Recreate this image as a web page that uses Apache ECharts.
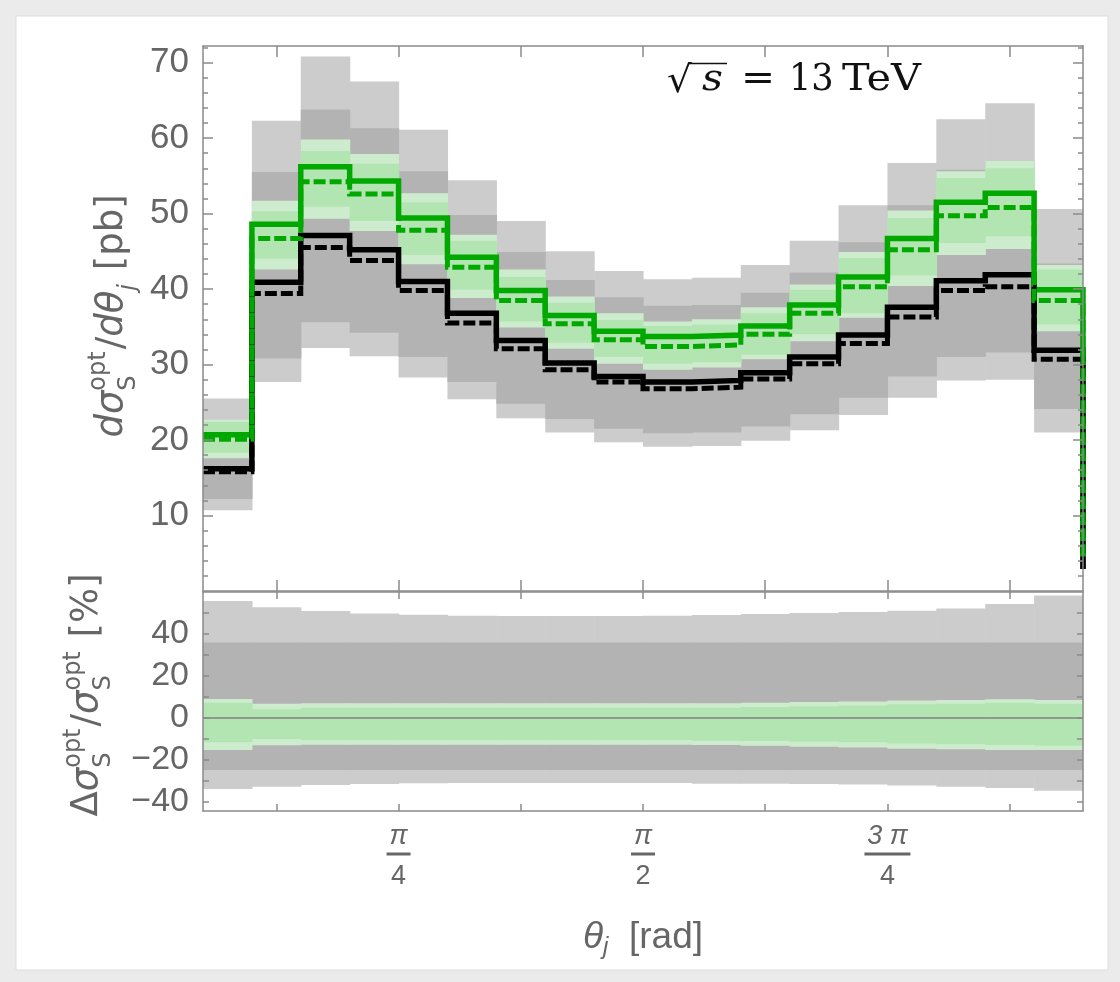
<!DOCTYPE html>
<html><head><meta charset="utf-8">
<script src="https://cdn.jsdelivr.net/npm/echarts@6/dist/echarts.min.js"></script>
<style>html,body{margin:0;padding:0;background:#ebebeb;} #c{width:1120px;height:982px;}</style>
</head><body><div id="c"></div>
<script>
// ---------- data ----------
const binEdges = [0.1571,0.3142,0.4712,0.6283,0.7854,0.9425,1.0996,1.2566,1.4137,1.5708,1.7279,1.8850,2.0420,2.1991,2.3562,2.5133,2.6704,2.8274,2.9845];
// central step lines (18 bins + the clipped bin after the last edge)
const blackSolid  = [16.2,40.9,47.1,45.2,41.0,36.8,33.2,30.2,28.4,27.7,27.9,28.9,31.0,33.9,37.6,41.1,41.9,31.9,2.9];
const blackDashed = [15.8,39.4,45.5,43.8,39.8,35.5,32.1,29.3,27.7,26.8,27.0,28.1,30.1,32.8,36.3,39.8,40.3,30.7,2.8];
const greenSolid  = [20.7,48.6,56.2,54.3,49.4,44.2,39.8,36.5,34.4,33.7,33.9,35.1,37.9,41.6,46.7,51.5,52.7,39.9,4.6];
const greenDashed = [20.1,46.7,54.2,52.6,47.8,42.9,38.5,35.4,33.3,32.4,32.6,34.0,36.8,40.3,45.2,49.7,50.8,38.5,4.4];
// uncertainty bands, upper panel [pb]
const grayOuterHi = [25.5,62.3,70.8,67.5,61.1,54.4,49.0,45.0,42.4,41.3,41.5,43.2,46.4,51.1,56.7,62.5,64.6,50.6];
const grayOuterLo = [10.7,27.7,32.2,31.1,28.3,25.4,22.9,21.0,19.7,19.1,19.2,19.9,21.3,23.3,25.6,27.9,28.0,21.0];
const grayInnerHi = [21.9,55.5,63.8,61.3,55.6,49.8,44.9,41.2,38.9,37.8,37.9,39.5,42.2,46.2,51.1,55.8,57.0,43.4];
const grayInnerLo = [12.2,30.8,35.6,34.2,31.0,27.7,24.8,22.8,21.5,20.9,21.0,21.8,23.4,25.6,28.4,31.0,31.6,24.1];
const greenOuterHi = [22.7,51.7,59.8,57.9,52.7,47.2,42.6,39.0,36.8,35.7,36.0,37.6,40.6,44.9,50.4,55.6,57.0,43.2];
const greenInnerHi = [22.4,50.3,58.3,56.6,51.5,46.4,41.6,38.2,35.9,35.1,35.3,36.8,39.9,44.1,49.4,54.7,56.0,42.6];
const greenInnerLo = [18.3,44.0,50.9,49.0,44.5,39.9,35.7,32.9,31.0,30.1,30.3,31.3,34.0,36.8,41.8,46.1,47.0,35.3];
const greenOuterLo = [17.6,42.6,49.3,47.7,43.3,38.8,34.9,32.1,30.1,29.3,29.6,30.7,33.1,36.2,40.4,44.5,45.3,34.4];
// relative bands, lower panel [%]
const relGrayOuterHi = [55.7,52.7,51.0,49.8,49.2,48.7,48.6,48.6,48.6,48.7,49.0,49.5,50.0,50.5,51.1,52.2,54.3,58.3];
const relGrayOuterLo = [-33.8,-32.7,-31.9,-31.4,-31.1,-31.0,-31.0,-31.0,-31.0,-31.0,-31.3,-31.3,-31.4,-31.7,-32.2,-32.7,-33.3,-34.6];
const relGrayInnerHi = [36.0,36.0,36.0,36.0,36.0,36.0,36.0,36.0,36.0,36.0,36.0,36.0,36.0,36.0,36.0,36.0,36.0,36.0];
const relGrayInnerLo = [-24.8,-24.8,-24.8,-24.8,-24.8,-24.8,-24.8,-24.8,-24.8,-24.8,-24.8,-24.8,-24.8,-24.8,-24.8,-24.8,-24.8,-24.8];
const relGreenOuterHi = [9.0,6.8,7.0,7.0,7.0,7.0,7.0,7.0,7.0,7.0,7.0,7.3,7.6,7.9,8.3,8.6,8.9,8.6];
const relGreenInnerHi = [7.3,4.1,4.9,4.9,4.9,4.9,4.9,4.9,4.9,4.9,4.9,5.2,5.6,6.0,6.5,6.8,7.3,6.8];
const relGreenInnerLo = [-11.6,-10.0,-10.5,-10.5,-10.5,-10.5,-10.5,-10.5,-10.5,-10.5,-10.8,-11.0,-11.3,-11.6,-12.1,-12.5,-12.9,-13.2];
const relGreenOuterLo = [-15.2,-13.0,-12.7,-12.7,-12.7,-12.7,-12.7,-12.7,-12.7,-12.7,-12.9,-13.2,-13.7,-14.1,-14.6,-14.9,-15.2,-15.2];
// ticks
const xTickValues = [Math.PI/8, Math.PI/4, 3*Math.PI/8, Math.PI/2, 5*Math.PI/8, 3*Math.PI/4, 7*Math.PI/8];
const xLabelValues = [Math.PI/4, Math.PI/2, 3*Math.PI/4];
const xLabelNum = ['π','π','3 π'];
const xLabelDen = ['4','2','4'];
const yTopTicks = [10,20,30,40,50,60,70];
const yTopMinor = [2,4,6,8,12,14,16,18,22,24,26,28,32,34,36,38,42,44,46,48,52,54,56,58,62,64,66,68,72];
const yBotTicks = [-40,-30,-20,-10,0,10,20,30,40,50];
const yBotLabels = [-40,-20,0,20,40];

// ---------- style ----------
const XMIN = binEdges[0], XMAX = binEdges[binEdges.length-1];
const frame = '#8a8a8a', labelColor = '#666666';
const cLightGray = '#cccccc', cDarkGray = '#b3b3b3', cLightGreen = '#cdeccd', cGreen = '#b3e5b3', cLine = '#00a800';
const SANS = 'Liberation Sans';

const chart = echarts.init(document.getElementById('c'), null, {renderer:'canvas'});

function band(xi, yi, lo, hi, color){
  return {type:'custom', xAxisIndex:xi, yAxisIndex:yi, silent:true, clip:true,
    data: lo.map((l,i)=>[binEdges[i], binEdges[i+1], l, hi[i]]),
    encode:{x:[0,1], y:[2,3]},
    renderItem:(params, api)=>{
      const p1 = api.coord([api.value(0), api.value(3)]);
      const p2 = api.coord([api.value(1), api.value(2)]);
      return {type:'rect', shape:{x:p1[0], y:p1[1], width:p2[0]-p1[0]+0.6, height:p2[1]-p1[1]}, style:{fill:color}};
    }};
}
function step(vals, color, dashed){
  return {type:'line', xAxisIndex:0, yAxisIndex:0, step:'end', symbol:'none', silent:true, clip:true,
    data: vals.map((v,i)=>[binEdges[i], v]),
    lineStyle:{color:color, width: dashed?5:5.5, type: dashed?[12,4]:'solid', cap:'butt', join:'miter'}};
}
function xAx(grid, pos, len, extra){
  return Object.assign({gridIndex:grid, type:'value', position:pos, min:XMIN, max:XMAX, z:10,
    axisLine:{show:true, onZero:false, lineStyle:{color:frame, width:1.5}},
    axisTick:{show:true, inside:true, length:len, customValues:xTickValues, lineStyle:{color:frame, width:1.5}},
    axisLabel:{show:false}, splitLine:{show:false}}, extra||{});
}
function yAx(grid, pos, min, max, ticks, len, showLine, extra){
  return Object.assign({gridIndex:grid, type:'value', position:pos, min:min, max:max, z:10,
    axisLine:{show:showLine, onZero:false, lineStyle:{color:frame, width:1.5}},
    axisTick:{show:true, inside:true, length:len, customValues:ticks, lineStyle:{color:frame, width:1.5}},
    axisLabel:{show:false}, splitLine:{show:false}}, extra||{});
}

const fracRich = {
  n:{fontFamily:SANS, fontStyle:'italic', fontSize:27, color:labelColor, lineHeight:26},
  b1:{width:24, height:3, backgroundColor:labelColor, fontSize:1, lineHeight:10},
  b2:{width:46, height:3, backgroundColor:labelColor, fontSize:1, lineHeight:10},
  d:{fontFamily:SANS, fontSize:27, color:labelColor, lineHeight:36}
};

// text layout helper for math labels (real text pieces)
const mctx = document.createElement('canvas').getContext('2d');
function fontStr(p){ return (p.it?'italic ':'') + p.s + 'px "' + (p.f||'DejaVu Sans') + '"'; }
function layout(pieces){
  let x = 0; const ch = [];
  for (const p of pieces){
    const grp = p.stack || [p];
    let wmax = 0;
    for (const q of grp){
      const font = fontStr(q);
      mctx.font = font;
      const w = mctx.measureText(q.t).width;
      wmax = Math.max(wmax, w);
      ch.push({type:'text', x:x, y:(q.dy||0) - 0.36*q.s, silent:true,
        style:{text:q.t, font:font, fill:p.color||labelColor, align:'left', verticalAlign:'middle', textAlign:'left', textVerticalAlign:'middle'}});
    }
    x += wmax + (p.gap||0);
  }
  return {children:ch, width:x};
}
const M = 37, m = 24;
const topTitle = layout([
  {t:'d', it:true, s:M}, {t:'σ', it:true, s:M},
  {stack:[{t:'opt', s:m, dy:-0.5*M}, {t:'S', s:m, dy:0.3*M}], gap:2},
  {t:'/', s:M}, {t:'d', it:true, s:M}, {t:'θ', it:true, s:M},
  {t:'j', it:true, s:m, dy:0.3*M, gap:2},
  {t:' [pb]', s:M}
]);
const botTitle = layout([
  {t:'Δ', s:M}, {t:'σ', it:true, s:M},
  {stack:[{t:'opt', s:m, dy:-0.5*M}, {t:'S', s:m, dy:0.3*M}], gap:2},
  {t:'/', s:M}, {t:'σ', it:true, s:M},
  {stack:[{t:'opt', s:m, dy:-0.5*M}, {t:'S', s:m, dy:0.3*M}], gap:2},
  {t:' [%]', s:M}
]);
// annotation pieces, placed left to right
const SF = 'DejaVu Serif', AS = 37, annBase = 94;
function txt(t, x, font, sx, sy, base){
  const b = base || annBase;
  return {type:'text', x:x, y:b - 0.36*AS, scaleX:sx||1, scaleY:sy||1, silent:true, z:100,
    style:{text:t, font:font, fill:'#111111', align:'left', verticalAlign:'middle', textAlign:'left', textVerticalAlign:'middle'}};
}
const fN = AS+'px "'+SF+'"', fI = 'italic '+AS+'px "'+SF+'"';

const option = {
  animation:false,
  backgroundColor:'#ebebeb',
  grid:[
    {left:203, top:46, width:880, height:545, outerBoundsMode:'none', containLabel:false},
    {left:203, top:592, width:880, height:219, outerBoundsMode:'none', containLabel:false}
  ],
  xAxis:[
    xAx(0,'bottom',11),
    xAx(0,'top',11),
    xAx(1,'bottom',7,{
      axisLabel:{show:true, customValues:xLabelValues, margin:12, rich:fracRich,
        formatter:(v)=>{ const i = xLabelValues.findIndex(u=>Math.abs(u-v)<1e-6); if(i<0) return '';
          return '{n|'+xLabelNum[i]+'}\n{'+(xLabelNum[i].length>1?'b2':'b1')+'| }\n{d|'+xLabelDen[i]+'}'; }},
      name:'{t|θ}{j|j}{n|  [rad]}', nameLocation:'middle', nameGap:106,
      nameTextStyle:{rich:{
        t:{fontFamily:SANS, fontStyle:'italic', fontSize:37, color:labelColor, lineHeight:42},
        j:{fontFamily:SANS, fontStyle:'italic', fontSize:24, color:labelColor, lineHeight:24, verticalAlign:'bottom'},
        n:{fontFamily:SANS, fontSize:37, color:labelColor, lineHeight:42}}}
    }),
    xAx(1,'top',7)
  ],
  yAxis:[
    yAx(0,'left',0,72.2,yTopTicks,10,true,{axisLabel:{show:true, customValues:yTopTicks, margin:14, fontFamily:SANS, fontSize:35, color:labelColor}}),
    yAx(0,'left',0,72.2,yTopMinor,5,false),
    yAx(0,'right',0,72.2,yTopTicks,10,true),
    yAx(0,'right',0,72.2,yTopMinor,5,false),
    yAx(1,'left',-44.3,60,yBotTicks,6,true,{axisLabel:{show:true, customValues:yBotLabels, margin:14, fontFamily:SANS, fontSize:34, color:labelColor,
      formatter:(v)=> v<0 ? '\u2212'+Math.abs(v) : String(v)}}),
    yAx(1,'right',-44.3,60,yBotTicks,6,true)
  ],
  graphic:[
    {type:'rect', z:-1, silent:true, shape:{x:16, y:16, width:1092, height:954}, style:{fill:'#ffffff', stroke:'#dddddd', lineWidth:1}},
    {type:'group', x:126, y:316 + topTitle.width/2, rotation:Math.PI/2, children:topTitle.children, z:100},
    {type:'group', x:101, y:695 + botTitle.width/2, rotation:Math.PI/2, children:botTitle.children, z:100},
    txt('√', 667, fN, 1.05, 1.0, 96),
    txt('s', 702, fI, 1.1),
    {type:'line', z:100, silent:true, shape:{x1:689, y1:63.5, x2:727, y2:63.5}, style:{stroke:'#111111', lineWidth:1.6}},
    txt('=', 741, fN, 1.1),
    txt('13', 789, fN, 0.95),
    txt('TeV', 842, fN, 1.12)
  ],
  series:[
    band(0,0,grayOuterLo,grayOuterHi,cLightGray),
    band(0,0,grayInnerLo,grayInnerHi,cDarkGray),
    band(0,0,greenOuterLo,greenOuterHi,cLightGreen),
    band(0,0,greenInnerLo,greenInnerHi,cGreen),
    step(blackSolid,'#000000',false),
    step(greenSolid,cLine,false),
    step(blackDashed,'#000000',true),
    step(greenDashed,cLine,true),
    band(2,4,relGrayOuterLo,relGrayOuterHi,cLightGray),
    band(2,4,relGrayInnerLo,relGrayInnerHi,cDarkGray),
    band(2,4,relGreenOuterLo,relGreenOuterHi,cLightGreen),
    band(2,4,relGreenInnerLo,relGreenInnerHi,cGreen),
    {type:'line', xAxisIndex:2, yAxisIndex:4, symbol:'none', silent:true,
      data:[[XMIN,0],[XMAX,0]], lineStyle:{color:'#808080', width:1.5}}
  ]
};
chart.setOption(option);
</script></body></html>
